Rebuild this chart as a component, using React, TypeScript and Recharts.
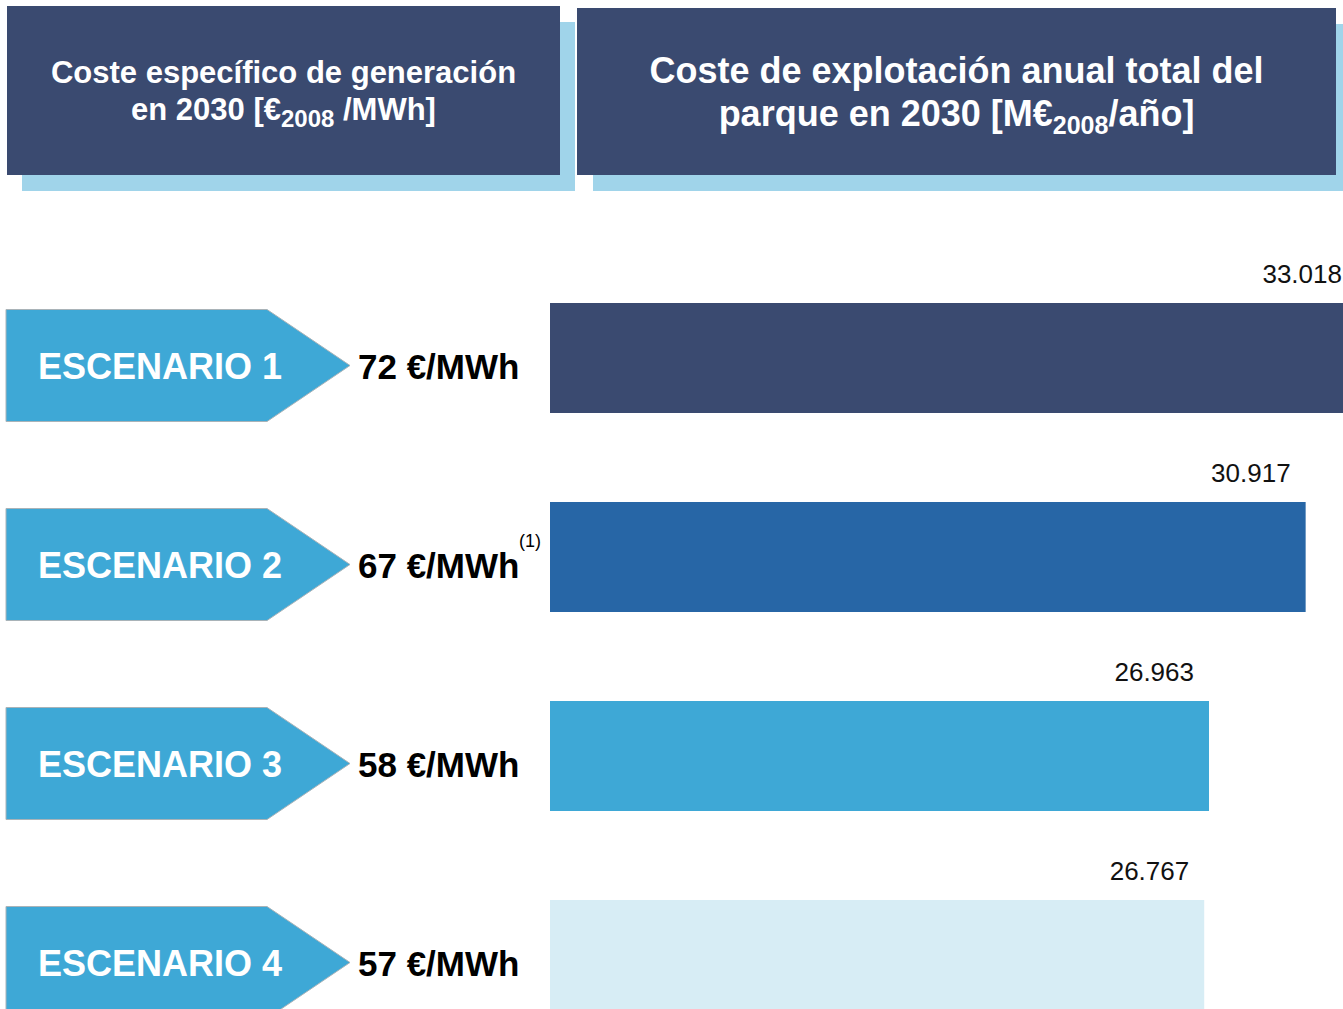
import { BarChart, Bar, XAxis, YAxis, Cell, LabelList } from 'recharts';

// Scenario data
const scenarios = ['ESCENARIO 1', 'ESCENARIO 2', 'ESCENARIO 3', 'ESCENARIO 4'];
const specificCost = [72, 67, 58, 57]; // €2008/MWh
const annualCost = [33018, 30917, 26963, 26767]; // M€2008/año
const notes = ['', '(1)', '', ''];

const BAR_COLORS = ['#3A4A70', '#2766A6', '#3EA8D6', '#D7EDF5'];
const DARK = '#3A4A70';
const SHADOW = '#A0D4EA';
const ARROW = '#3EA8D6';
const FONT = "'Liberation Sans', Arial, sans-serif";

const chartData = scenarios.map((s, i) => ({
  scenario: s,
  specific: specificCost[i],
  annual: annualCost[i],
  note: notes[i],
}));

// 33018 -> "33.018"
const fmt = (v: number) => String(v).replace(/\B(?=(\d{3})+(?!\d))/g, '.');

const ScenarioTick = (props: any) => {
  const { y, payload, index } = props;
  const row = chartData[index] ?? chartData.find((d) => d.scenario === payload.value);
  const cy = y + 8;
  const h = 112;
  const pts = `6,${cy - h / 2} 267,${cy - h / 2} 350,${cy} 267,${cy + h / 2} 6,${cy + h / 2}`;
  return (
    <g>
      <polygon points={pts} fill={ARROW} stroke="#A9B3B8" strokeWidth={1} />
      <text x={38} y={cy} dy={13} fill="#fff" fontSize={36} fontWeight={700} fontFamily={FONT}>
        {payload.value}
      </text>
      <text x={358} y={cy} dy={13} fill="#000" fontSize={35} fontWeight={700} fontFamily={FONT}>
        {`${row.specific} €/MWh`}
      </text>
      {row.note && (
        <text x={541} y={cy - 18} textAnchor="end" fill="#000" fontSize={18} fontFamily={FONT}>
          {row.note}
        </text>
      )}
    </g>
  );
};

const renderValueLabel = (props: any) => {
  const { x, y, width, value } = props;
  return (
    <text x={x + width - 15} y={y - 20} textAnchor="end" fill="#111" fontSize={26} fontFamily={FONT}>
      {fmt(value)}
    </text>
  );
};

const headerBox = (left: number, top: number, width: number, height: number, bg: string): React.CSSProperties => ({
  position: 'absolute',
  left,
  top,
  width,
  height,
  background: bg,
});

export default function App() {
  return (
    <div
      style={{
        position: 'absolute',
        left: 0,
        top: 0,
        width: 1343,
        height: 1009,
        overflow: 'hidden',
        background: '#fff',
        fontFamily: FONT,
      }}
    >
      {/* header shadows */}
      <div style={headerBox(22, 22, 553, 169, SHADOW)} />
      <div style={headerBox(593, 24, 760, 167, SHADOW)} />
      {/* header boxes */}
      <div
        style={{
          ...headerBox(7, 6, 553, 169, DARK),
          color: '#fff',
          fontWeight: 700,
          fontSize: 31,
          lineHeight: '37px',
          textAlign: 'center',
          display: 'flex',
          flexDirection: 'column',
          justifyContent: 'center',
        }}
      >
        <div>Coste específico de generación</div>
        <div>
          en 2030 [€<sub style={{ fontSize: 24, lineHeight: 0 }}>2008</sub> /MWh]
        </div>
      </div>
      <div
        style={{
          ...headerBox(577, 8, 759, 167, DARK),
          color: '#fff',
          fontWeight: 700,
          fontSize: 36,
          lineHeight: '43px',
          textAlign: 'center',
          display: 'flex',
          flexDirection: 'column',
          justifyContent: 'center',
        }}
      >
        <div>Coste de explotación anual total del</div>
        <div>
          parque en 2030 [M€<sub style={{ fontSize: 25, lineHeight: 0 }}>2008</sub>/año]
        </div>
      </div>

      <div style={{ position: 'absolute', left: 0, top: 0 }}>
        <BarChart
          layout="vertical"
          width={1381}
          height={1054}
          data={chartData}
          margin={{ top: 258, right: 0, bottom: 0, left: 0 }}
          barSize={110}
        >
          <XAxis type="number" domain={[0, 34000]} hide />
          <YAxis
            type="category"
            dataKey="scenario"
            width={550}
            axisLine={false}
            tickLine={false}
            interval={0}
            tick={(p: any) => <ScenarioTick {...p} />}
          />
          <Bar dataKey="annual" isAnimationActive={false}>
            {chartData.map((d, i) => (
              <Cell key={d.scenario} fill={BAR_COLORS[i]} />
            ))}
            <LabelList dataKey="annual" content={renderValueLabel} />
          </Bar>
        </BarChart>
      </div>
    </div>
  );
}
